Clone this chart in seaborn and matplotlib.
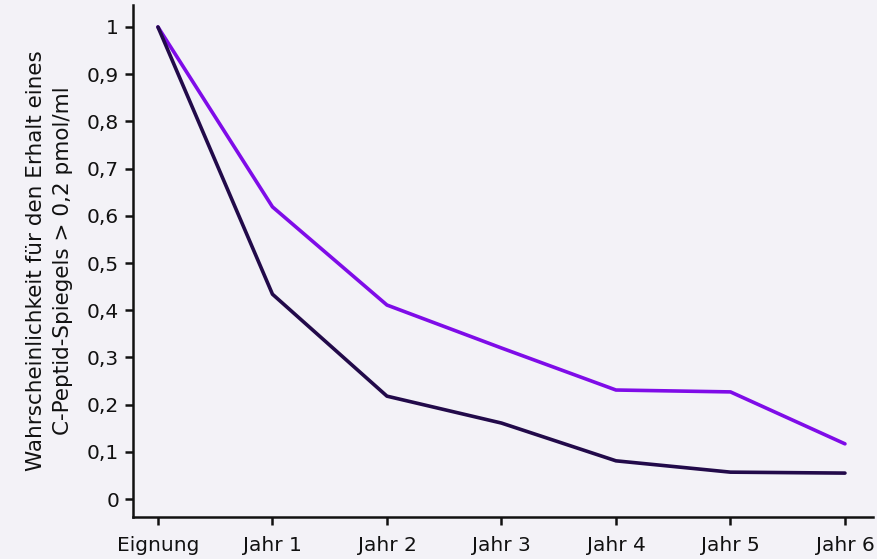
import matplotlib
matplotlib.use("Agg")
import matplotlib.pyplot as plt
import seaborn as sns
import pandas as pd

categories = ["Eignung", "Jahr 1", "Jahr 2", "Jahr 3", "Jahr 4", "Jahr 5", "Jahr 6"]
series_upper = [1.0, 0.619, 0.411, 0.32, 0.231, 0.227, 0.117]
series_lower = [1.0, 0.434, 0.218, 0.161, 0.081, 0.057, 0.055]
y_ticks = [0, 0.1, 0.2, 0.3, 0.4, 0.5, 0.6, 0.7, 0.8, 0.9, 1.0]
y_tick_labels = ["0", "0,1", "0,2", "0,3", "0,4", "0,5", "0,6", "0,7", "0,8", "0,9", "1"]
y_label = "Wahrscheinlichkeit für den Erhalt eines\nC-Peptid-Spiegels > 0,2 pmol/ml"

bg = "#f3f2f7"
sns.set_theme(style="ticks")
plt.rcParams["font.family"] = ["DejaVu Sans"]

df = pd.DataFrame({
    "pos": list(range(len(categories))) * 2,
    "value": series_upper + series_lower,
    "series": ["upper"] * len(categories) + ["lower"] * len(categories),
})

fig = plt.figure(figsize=(8.78, 5.59), dpi=100, facecolor=bg)
ax = fig.add_axes([133 / 878, 42 / 559, 740 / 878, 512 / 559], facecolor=bg)

sns.lineplot(data=df, x="pos", y="value", hue="series",
             palette={"upper": "#7f0ce8", "lower": "#220a4a"},
             linewidth=2.6, legend=False, ax=ax)

ax.set_xlim(-0.218, 6.245)
ax.set_ylim(-0.038, 1.0466)
ax.set_xticks(range(len(categories)))
ax.set_xticklabels(categories, fontsize=14.5, color="#111111")
ax.set_yticks(y_ticks)
ax.set_yticklabels(y_tick_labels, fontsize=14.5, color="#111111")
ax.set_xlabel("")
ax.set_ylabel(y_label, fontsize=15.5, color="#111111", labelpad=10,
              linespacing=1.45)

for side in ["top", "right"]:
    ax.spines[side].set_visible(False)
for side in ["left", "bottom"]:
    ax.spines[side].set_linewidth(1.8)
    ax.spines[side].set_color("#111111")
ax.tick_params(axis="both", length=6, width=1.8, color="#111111")
ax.tick_params(axis="y", pad=4)
ax.tick_params(axis="x", pad=8)

fig.savefig("out.png", dpi=100, facecolor=bg)
